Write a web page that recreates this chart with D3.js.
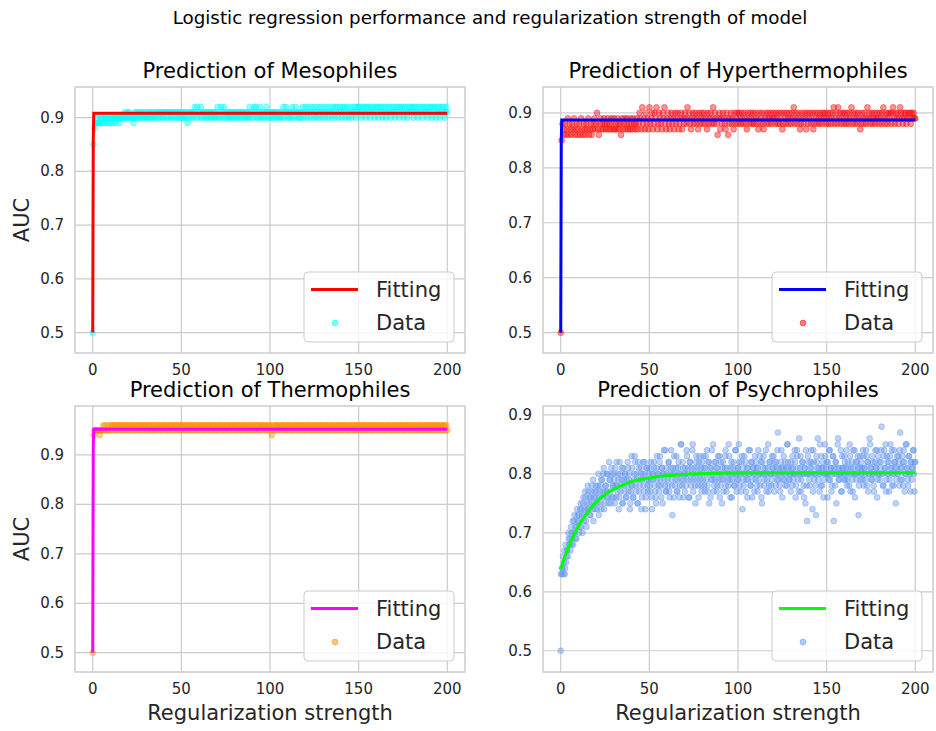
<!DOCTYPE html>
<html>
<head>
<meta charset="utf-8">
<script src="https://cdn.jsdelivr.net/npm/d3@7"></script>
<style>
  body { margin: 0; background: #fff; }
  svg { display: block; font-family: "DejaVu Sans", sans-serif; }
</style>
</head>
<body>
<svg></svg>
<script>
// tick labels shared by every panel
const xTicks = [0, 50, 100, 150, 200];
const yTicks = [0.5, 0.6, 0.7, 0.8, 0.9];
const xRange = [0, 200];   // regularization strength grid, evenly spaced

// AUC x100, one value per grid step (0, 0.5, 1, ... 200)
const mesoAuc = [
  50,85,88,89,89,90,89,89,90,89,90,89,90,89,90,90,89,90,89,90,
  89,90,90,89,90,90,89,90,90,90,89,90,90,90,90,90,91,90,90,91,
  90,91,90,90,90,90,89,90,91,90,91,90,90,91,90,91,90,90,91,90,
  91,90,90,91,90,91,90,91,90,91,90,90,91,91,90,91,90,91,90,91,
  90,91,91,90,91,90,91,91,90,91,90,91,90,91,91,90,91,90,91,90,
  91,90,91,90,91,90,91,89,90,91,91,90,91,90,91,92,91,90,92,91,
  90,91,92,90,91,91,90,91,90,91,90,91,91,90,91,90,91,90,91,90,
  91,92,90,91,90,92,91,90,92,91,90,91,90,91,90,91,90,91,90,91,
  90,91,91,90,91,90,91,90,91,91,90,91,90,91,90,91,90,92,91,90,
  91,90,92,91,92,90,91,90,91,92,90,91,90,91,90,91,92,91,90,91,
  90,91,90,91,90,91,91,90,91,90,91,90,91,90,91,92,90,91,92,91,
  90,91,90,91,90,92,91,90,91,92,91,90,91,90,91,90,91,92,90,91,
  92,91,90,92,91,90,91,92,91,90,92,91,90,91,92,90,91,92,91,90,
  91,92,90,91,92,91,90,91,92,91,90,92,91,90,92,91,92,90,91,92,
  91,90,92,91,92,90,91,92,91,90,92,91,90,91,92,91,92,90,91,92,
  92,91,92,90,91,92,91,92,90,92,91,92,91,90,92,91,92,91,90,92,
  91,92,90,92,91,92,91,90,92,91,92,90,91,92,91,92,90,91,92,91,
  92,90,91,92,91,92,90,92,91,92,91,90,92,91,92,90,91,92,91,92,
  91,92,90,92,91,92,91,90,92,91,92,91,90,92,91,92,91,92,90,91,
  92,91,92,90,92,91,92,90,91,92,91,92,90,91,92,91,92,90,91,92,
  91
];
const hyperAuc = [
  50,85,88,86,87,88,86,87,89,86,88,87,86,88,87,89,86,87,88,86,
  87,88,86,89,87,86,88,87,86,88,87,89,86,87,88,86,87,88,89,87,
  88,90,87,86,88,89,87,88,87,89,88,87,88,89,87,88,87,89,88,87,
  89,87,88,87,89,88,87,88,86,89,87,88,89,87,88,89,87,88,87,89,
  88,87,89,88,87,88,89,87,88,90,89,87,91,88,89,87,90,88,89,87,
  91,88,89,90,87,88,90,89,91,87,88,90,89,88,87,90,89,91,88,87,
  89,90,88,87,89,90,88,89,87,90,88,89,90,87,88,89,90,87,89,88,
  90,89,88,91,89,90,88,87,89,90,88,89,90,88,89,87,90,88,89,90,
  88,89,90,88,89,87,90,88,89,90,88,89,91,88,90,89,88,86,89,90,
  87,89,88,90,89,88,87,90,89,86,88,89,90,88,89,87,90,88,89,90,
  88,90,89,88,90,89,88,90,89,88,87,90,89,88,90,89,88,90,88,89,
  90,88,89,87,90,88,89,90,88,87,89,90,88,89,90,88,89,90,88,89,
  90,89,88,90,89,88,90,88,89,90,87,88,90,89,88,90,89,88,90,89,
  88,90,89,91,88,90,89,88,90,89,87,88,90,89,88,90,89,87,90,88,
  89,90,88,89,90,87,88,90,89,88,90,89,88,90,89,88,90,89,90,88,
  89,90,88,89,90,88,89,90,91,88,89,90,88,91,89,90,88,89,90,88,
  90,89,88,90,89,88,90,89,91,88,90,89,88,90,89,88,90,89,87,88,
  90,89,88,90,89,88,91,89,90,88,89,90,88,89,90,88,89,90,89,88,
  90,89,88,90,91,89,88,90,89,88,90,89,90,88,90,91,89,88,90,89,
  90,88,89,91,90,89,88,90,89,90,88,89,90,89,90,88,90,89,90,89,
  89
];
const thermoAuc = [
  50,94,95,95,95,95,95,95,94,95,95,95,96,95,96,95,95,96,95,95,
  96,95,96,96,95,96,95,96,95,96,96,95,96,95,96,95,96,96,95,96,
  95,96,95,96,96,95,96,95,96,95,96,96,95,96,95,96,95,96,96,95,
  96,95,96,95,96,96,95,96,95,96,95,96,95,96,96,95,96,95,96,95,
  96,96,95,96,95,96,95,96,96,95,96,95,96,95,96,96,95,96,95,96,
  95,96,96,95,96,95,96,95,96,96,95,96,95,96,95,96,96,95,96,95,
  96,95,96,96,95,96,95,96,95,96,96,95,96,95,96,95,96,96,95,96,
  95,96,95,96,96,95,96,95,96,95,96,96,95,96,95,96,95,96,96,95,
  96,95,96,95,96,96,95,96,95,96,95,96,96,95,96,95,96,95,96,96,
  95,96,95,96,95,96,96,95,96,95,96,95,96,96,95,96,95,96,95,96,
  96,95,94,96,95,96,95,96,96,95,96,95,96,95,96,96,95,96,95,96,
  95,96,96,95,96,95,96,95,96,96,95,96,95,96,95,96,96,95,96,95,
  96,95,96,96,95,96,95,96,95,96,96,95,96,95,96,95,96,96,95,96,
  95,96,95,96,96,95,96,95,96,95,96,96,95,96,95,96,95,96,96,95,
  96,95,96,95,96,96,95,96,95,96,95,96,96,95,96,95,96,95,96,96,
  95,96,95,96,95,96,96,95,96,95,96,95,96,96,95,96,95,96,95,96,
  96,95,96,95,96,95,96,96,95,96,95,96,95,96,96,95,96,95,96,95,
  96,96,95,96,95,96,95,96,96,95,96,95,96,95,96,96,95,96,95,96,
  95,96,96,95,96,95,96,95,96,96,95,96,95,96,95,96,96,95,96,95,
  96,95,96,96,95,96,95,96,95,96,96,95,96,95,96,95,96,96,95,96,
  95
];
const psychroAuc = [
  50,63,64,63,67,64,65,67,66,69,68,67,70,69,68,72,70,69,71,73,
  72,70,74,71,73,75,72,74,76,71,74,77,75,73,76,78,74,72,77,75,
  76,74,78,73,77,75,79,76,80,74,77,78,76,80,75,79,77,81,76,78,
  80,75,78,82,77,79,76,80,78,81,75,79,77,80,76,78,81,79,74,77,
  83,78,76,80,82,77,79,75,81,78,80,74,79,82,77,80,76,81,78,79,
  81,77,79,74,80,82,78,76,81,79,80,77,83,78,81,75,80,79,84,77,
  80,78,82,76,81,79,73,80,83,78,81,77,79,82,76,80,85,78,81,79,
  77,80,84,79,81,76,82,78,80,85,79,81,75,83,80,78,82,79,81,77,
  80,83,78,81,79,84,77,82,80,76,81,79,85,78,80,82,77,81,79,83,
  78,80,75,82,79,81,84,77,80,78,83,79,81,76,80,82,78,84,80,79,
  81,85,78,80,82,74,79,83,80,77,81,79,84,80,78,82,76,81,80,83,
  79,81,77,84,80,78,82,75,80,83,79,81,77,80,85,78,82,80,79,81,
  83,77,80,82,79,87,81,78,80,84,76,81,79,82,80,78,85,81,79,80,
  82,78,81,80,84,76,80,83,79,86,81,77,80,82,78,81,75,80,72,83,
  80,78,82,81,74,84,79,80,73,82,86,81,77,80,83,78,81,79,85,80,
  82,76,80,84,79,81,78,83,72,80,82,75,81,86,79,80,84,77,81,80,
  83,79,81,78,82,80,85,77,81,79,84,80,76,82,80,83,73,81,79,82,
  80,84,78,81,79,83,82,77,80,85,81,79,82,78,80,84,81,76,83,80,
  79,82,88,80,78,84,81,77,83,80,82,79,85,81,78,80,84,82,75,81,
  80,83,78,87,81,79,82,84,77,80,85,81,78,83,80,82,79,81,84,77,
  82
];
// second psychrophile run, sampled between the grid steps (0.25, 0.75, ... 199.75)
const psychroAucMid = [
  63,64,66,65,63,68,66,67,70,68,69,71,68,72,70,73,71,69,74,72,
  73,71,75,74,70,76,73,77,72,75,78,74,76,73,77,75,79,76,74,78,
  77,75,80,76,78,74,79,77,81,75,78,80,77,76,82,79,75,80,78,76,
  79,81,76,78,80,74,82,77,79,75,81,78,80,76,79,82,77,80,75,78,
  81,76,79,83,78,80,75,82,77,79,81,76,80,78,82,74,79,81,77,80,
  78,82,76,80,79,81,77,75,83,80,78,82,79,76,81,80,84,78,77,81,
  79,82,77,80,84,78,81,76,80,79,83,77,81,80,78,85,79,82,76,80,
  81,78,83,80,76,82,79,81,84,77,80,78,82,79,81,76,83,80,78,82,
  79,81,77,83,80,78,82,75,81,79,84,80,77,82,79,81,78,83,80,76,
  82,79,81,77,80,83,78,81,79,85,80,76,82,79,81,78,80,84,77,81,
  79,82,80,77,83,81,78,80,82,79,76,81,80,84,78,82,79,81,77,80,
  82,78,81,79,83,80,76,82,81,78,80,84,79,81,77,82,80,78,83,81,
  80,82,78,81,84,79,80,77,82,81,79,83,80,78,81,85,82,79,80,77,
  81,83,79,80,82,78,84,81,77,80,83,79,82,80,76,81,84,78,80,82,
  79,81,84,80,77,82,80,78,83,81,79,80,85,78,81,82,76,80,83,81,
  80,82,79,84,81,77,80,83,81,78,82,80,85,79,81,80,77,83,81,79,
  82,80,84,79,81,78,83,80,82,77,81,84,80,79,82,81,78,83,80,81,
  79,83,81,80,84,78,82,80,86,81,79,83,80,77,82,81,84,79,80,82,
  81,84,80,78,83,81,85,79,82,80,77,83,81,84,80,78,82,81,79,83,
  80,82,84,79,81,83,78,82,80,85,81,79,83,80,77,82,81,84,80,82
];

// fitted curves (x, AUC)
const mesoFitX = [0, 0.3, 0.6, 200];
const mesoFitY = [0.5, 0.86, 0.908, 0.908];
const hyperFitX = [0, 0.3, 0.6, 200];
const hyperFitY = [0.5, 0.85, 0.887, 0.887];
const thermoFitX = [0, 0.3, 0.6, 200];
const thermoFitY = [0.5, 0.92, 0.952, 0.952];
const psychroFitX = [0, 2, 4, 6, 8, 10, 13, 16, 20, 25, 30, 35, 40, 50, 60, 70, 80, 100, 130, 160, 200];
const psychroFitY = [0.639, 0.657, 0.673, 0.687, 0.700, 0.712, 0.726, 0.738, 0.752, 0.765, 0.774,
                     0.781, 0.787, 0.793, 0.797, 0.799, 0.8005, 0.8015, 0.802, 0.802, 0.802];

const titles = ["Prediction of Mesophiles", "Prediction of Hyperthermophiles",
                "Prediction of Thermophiles", "Prediction of Psychrophiles"];
const legendLabels = ["Fitting", "Data"];

const width = 936, height = 731;
const svg = d3.select("svg").attr("width", width).attr("height", height);
const ink = "#262626", gridColor = "#cccccc";

const panels = [
  { auc: mesoAuc, mid: [], fx: mesoFitX, fy: mesoFitY, dot: "#00ffff", line: "#ff0000",
    box: [75, 465, 87, 353], yDom: [0.462, 0.957], row: 0, col: 0 },
  { auc: hyperAuc, mid: [], fx: hyperFitX, fy: hyperFitY, dot: "#ff0000", line: "#0000ff",
    box: [543, 933, 87, 353], yDom: [0.463, 0.947], row: 0, col: 1 },
  { auc: thermoAuc, mid: [], fx: thermoFitX, fy: thermoFitY, dot: "#ff8c00", line: "#ff00ff",
    box: [75, 465, 406, 672], yDom: [0.461, 0.999], row: 1, col: 0 },
  { auc: psychroAuc, mid: psychroAucMid, fx: psychroFitX, fy: psychroFitY, dot: "#6495ed", line: "#00ff00",
    box: [543, 933, 406, 672], yDom: [0.464, 0.915], row: 1, col: 1 }
];

svg.append("text")
  .attr("x", 490).attr("y", 24)
  .attr("text-anchor", "middle")
  .attr("font-size", 18.3)
  .attr("fill", "#000")
  .text("Logistic regression performance and regularization strength of model");

panels.forEach((p, i) => {
  const [l, r, t, b] = p.box;
  const x = d3.scaleLinear().domain([-10, 210]).range([l, r]);
  const y = d3.scaleLinear().domain(p.yDom).range([b, t]);
  const g = svg.append("g");

  // grid
  g.selectAll(".gx").data(xTicks).enter().append("line")
    .attr("x1", d => x(d)).attr("x2", d => x(d))
    .attr("y1", t).attr("y2", b)
    .attr("stroke", gridColor).attr("stroke-width", 1.2);
  g.selectAll(".gy").data(yTicks).enter().append("line")
    .attr("x1", l).attr("x2", r)
    .attr("y1", d => y(d)).attr("y2", d => y(d))
    .attr("stroke", gridColor).attr("stroke-width", 1.2);

  // frame
  g.append("rect")
    .attr("x", l).attr("y", t).attr("width", r - l).attr("height", b - t)
    .attr("fill", "none").attr("stroke", gridColor).attr("stroke-width", 1.5);

  // tick labels
  g.selectAll(".tx").data(xTicks).enter().append("text")
    .attr("x", d => x(d)).attr("y", b + 22)
    .attr("text-anchor", "middle").attr("font-size", 15).attr("fill", ink)
    .text(d => d);
  g.selectAll(".ty").data(yTicks).enter().append("text")
    .attr("x", l - 11).attr("y", d => y(d) + 5)
    .attr("text-anchor", "end").attr("font-size", 15).attr("fill", ink)
    .text(d => d.toFixed(1));

  // title
  g.append("text")
    .attr("x", (l + r) / 2).attr("y", t - 9)
    .attr("text-anchor", "middle").attr("font-size", 21).attr("fill", "#000")
    .text(titles[i]);

  if (p.col === 0) {
    g.append("text")
      .attr("transform", `translate(29,${(t + b) / 2}) rotate(-90)`)
      .attr("text-anchor", "middle").attr("font-size", 21).attr("fill", ink)
      .text("AUC");
  }
  if (p.row === 1) {
    g.append("text")
      .attr("x", (l + r) / 2).attr("y", b + 48)
      .attr("text-anchor", "middle").attr("font-size", 21).attr("fill", ink)
      .text("Regularization strength");
  }

  // scatter: main grid plus optional half-step samples
  const n = p.auc.length;
  const step = (xRange[1] - xRange[0]) / (n - 1);
  const pts = p.auc.map((v, k) => [xRange[0] + k * step, v / 100])
    .concat(p.mid.map((v, k) => [xRange[0] + (k + 0.5) * step, v / 100]));
  g.append("g").selectAll("circle").data(pts).enter().append("circle")
    .attr("cx", d => x(d[0]))
    .attr("cy", d => y(d[1]))
    .attr("r", 2.9)
    .attr("fill", p.dot).attr("fill-opacity", 0.42)
    .attr("stroke", p.dot).attr("stroke-opacity", 0.42).attr("stroke-width", 1);

  // fitted curve
  const line = d3.line()
    .x(d => x(d[0])).y(d => y(d[1]))
    .curve(i === 3 ? d3.curveMonotoneX : d3.curveLinear);
  g.append("path")
    .datum(p.fx.map((v, k) => [v, p.fy[k]]))
    .attr("d", line)
    .attr("fill", "none").attr("stroke", p.line).attr("stroke-width", 3);

  // legend
  const lx = r - 161, ly = b - 81;
  const lg = g.append("g").attr("transform", `translate(${lx},${ly})`);
  lg.append("rect")
    .attr("width", 150).attr("height", 70).attr("rx", 4)
    .attr("fill", "#fff").attr("fill-opacity", 0.8)
    .attr("stroke", gridColor).attr("stroke-width", 1);
  lg.append("line")
    .attr("x1", 7).attr("x2", 54).attr("y1", 17.5).attr("y2", 17.5)
    .attr("stroke", p.line).attr("stroke-width", 3);
  lg.append("circle")
    .attr("cx", 31).attr("cy", 51).attr("r", 2.9)
    .attr("fill", p.dot).attr("fill-opacity", 0.5)
    .attr("stroke", p.dot).attr("stroke-opacity", 0.5);
  lg.selectAll(".lt").data(legendLabels).enter().append("text")
    .attr("x", 72).attr("y", (d, k) => 25 + k * 33)
    .attr("font-size", 21).attr("fill", ink)
    .text(d => d);
});
</script>
</body>
</html>
